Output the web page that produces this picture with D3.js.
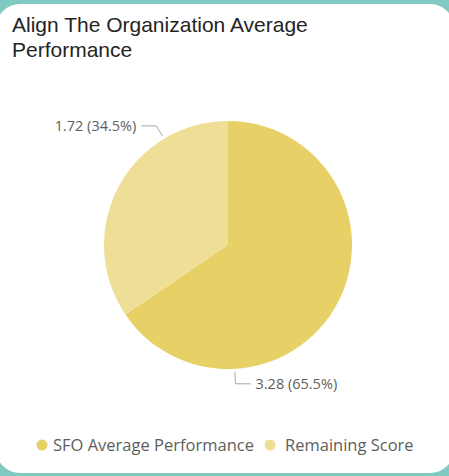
<!DOCTYPE html>
<html>
<head>
<meta charset="utf-8">
<script src="https://cdn.jsdelivr.net/npm/d3@7"></script>
<style>
  html, body { margin: 0; padding: 0; overflow: hidden; background: #ffffff; }
  svg { display: block; }
</style>
</head>
<body>
<div id="chart"></div>
<script>
var categories = ["SFO Average Performance", "Remaining Score"];
var values = [3.276, 1.724];
var colors = ["#e7d066", "#efdf96"];
var titleLines = ["Align The Organization Average", "Performance"];

var width = 449, height = 476;
var cx = 228, cy = 245, radius = 124;

var svg = d3.select("#chart").append("svg")
    .attr("width", width)
    .attr("height", height);

svg.append("rect")
    .attr("width", width).attr("height", height)
    .attr("fill", "#80cac2");

// card, running slightly off the left and right edges
svg.append("rect")
    .attr("x", -4).attr("y", 4)
    .attr("width", 458).attr("height", 469)
    .attr("rx", 24).attr("ry", 24)
    .attr("fill", "#ffffff");

svg.append("g").selectAll("text")
    .data(titleLines)
    .enter().append("text")
    .attr("x", 12)
    .attr("y", function(d, i) { return 32 + i * 25; })
    .attr("font-family", "Liberation Sans, Arial, sans-serif")
    .attr("font-size", 21)
    .attr("fill", "#252423")
    .text(function(d) { return d; });

var total = d3.sum(values);
var data = categories.map(function(c, i) { return {name: c, value: values[i], color: colors[i]}; });

var pie = d3.pie().sort(null).value(function(d) { return d.value; });
var arc = d3.arc().innerRadius(0).outerRadius(radius);
var arcs = pie(data);

var g = svg.append("g").attr("transform", "translate(" + cx + "," + cy + ")");

g.selectAll("path")
    .data(arcs)
    .enter().append("path")
    .attr("d", arc)
    .attr("fill", function(d) { return d.data.color; });

// labels: anchored three quarters through each slice
function pt(a, r) { return [r * Math.sin(a), -r * Math.cos(a)]; }

arcs.forEach(function(d) {
    var a = d.startAngle + 0.75 * (d.endAngle - d.startAngle);
    var p1 = pt(a, radius + 3), p2 = pt(a, radius + 15);
    var side = p2[0] < 0 ? -1 : 1;
    var p3 = [p2[0] + side * 15, p2[1]];
    g.append("polyline")
        .attr("points", [p1, p2, p3].map(function(p) { return p.join(","); }).join(" "))
        .attr("fill", "none")
        .attr("stroke", "#a6a6a6")
        .attr("stroke-width", 1);
    g.append("text")
        .attr("x", p3[0] + side * 5)
        .attr("y", p3[1])
        .attr("dy", "0.35em")
        .attr("text-anchor", side < 0 ? "end" : "start")
        .attr("font-family", "Open Sans, sans-serif")
        .attr("font-size", 14.5)
        .attr("fill", "#605e5c")
        .text(d3.format(".2f")(d.data.value) + " (" + d3.format(".1%")(d.data.value / total) + ")");
});

// legend
var legend = svg.append("g").attr("transform", "translate(0,445)");
var lx = [42, 270];
data.forEach(function(d, i) {
    legend.append("circle")
        .attr("cx", lx[i]).attr("cy", 0).attr("r", 5.5)
        .attr("fill", d.color);
    legend.append("text")
        .attr("x", lx[i] + (i === 0 ? 11 : 15))
        .attr("y", 0)
        .attr("dy", "0.35em")
        .attr("font-family", "Open Sans, sans-serif")
        .attr("font-size", 16.5)
        .attr("fill", "#605e5c")
        .text(d.name);
});
</script>
</body>
</html>
